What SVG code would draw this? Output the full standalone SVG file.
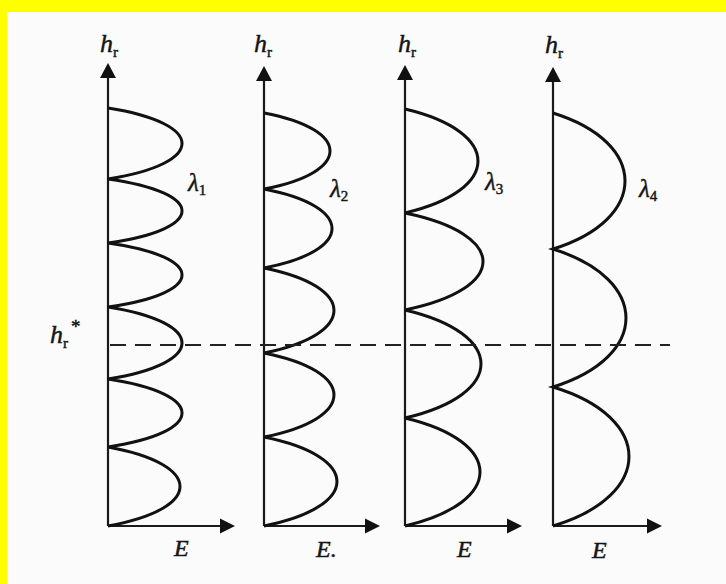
<svg xmlns="http://www.w3.org/2000/svg" width="726" height="584" viewBox="0 0 726 584">
<style>
.bg{fill:#fbfbfb}
.frame{fill:#ffff00}
.axis{stroke:#1a1a1a;stroke-width:2.2;fill:none}
.head{fill:#111}
.lobe{stroke:#111;stroke-width:3;fill:none;stroke-linejoin:miter}
.dash{stroke:#222;stroke-width:2;stroke-dasharray:16 9;fill:none}
text{font-family:"Liberation Serif","Times New Roman",serif;fill:#151515;stroke:#151515;stroke-width:0.45}
.h{font-size:26px;font-style:italic}
.lam{font-size:25px;font-style:italic}
.e{font-size:24px;font-style:italic}
.sub{font-size:15px;font-style:normal}
</style>
<rect class="bg" x="0" y="0" width="726" height="584"/>
<rect class="frame" x="0" y="0" width="726" height="12"/>
<rect class="frame" x="0" y="0" width="7" height="584"/>

<g id="panel-1">
  <line class="axis" x1="108" y1="526" x2="108" y2="72"/>
  <polygon class="head" points="108,63 100,78 116,78"/>
  <line class="axis" x1="108" y1="526" x2="226" y2="526"/>
  <polygon class="head" points="235,526 220,518.5 220,533.5"/>
  <path class="lobe" d="M108,108 C206.7,123.6 206.7,163.4 108,179 C206.7,193.1 206.7,228.9 108,243 C206.7,257.1 206.7,292.9 108,307 C206.7,322.8 206.7,363.2 108,379 C206.7,394 206.7,432 108,447 C204,464.4 204,508.6 108,526"/>
  <text class="h" x="100" y="52">h<tspan class="sub" dy="5">r</tspan></text>
  <text class="lam" x="188" y="191">λ<tspan class="sub" dy="4">1</tspan></text>
  <text class="e" x="174" y="556">E</text>
</g>

<g id="panel-2">
  <line class="axis" x1="264" y1="526" x2="264" y2="75"/>
  <polygon class="head" points="264,66 256,81 272,81"/>
  <line class="axis" x1="264" y1="526" x2="371" y2="526"/>
  <polygon class="head" points="380,526 365,518.5 365,533.5"/>
  <path class="lobe" d="M264,113 C352,129.7 352,172.3 264,189 C354.7,206.4 354.7,250.6 264,268 C357.3,286.7 357.3,334.3 264,353 C357.3,371.5 357.3,418.5 264,437 C361.3,456.6 361.3,506.4 264,526"/>
  <text class="h" x="254" y="52">h<tspan class="sub" dy="5">r</tspan></text>
  <text class="lam" x="330" y="197">λ<tspan class="sub" dy="4">2</tspan></text>
  <text class="e" x="316" y="557">E.</text>
</g>

<g id="panel-3">
  <line class="axis" x1="405" y1="526" x2="405" y2="74"/>
  <polygon class="head" points="405,65 397,80 413,80"/>
  <line class="axis" x1="405" y1="526" x2="513" y2="526"/>
  <polygon class="head" points="522,526 507,518.5 507,533.5"/>
  <path class="lobe" d="M405,109 C502.3,131.9 502.3,190.1 405,213 C509,234.3 509,288.7 405,310 C506.3,333.8 506.3,394.2 405,418 C505,441.8 505,502.2 405,526"/>
  <text class="h" x="398" y="52">h<tspan class="sub" dy="5">r</tspan></text>
  <text class="lam" x="485" y="190">λ<tspan class="sub" dy="4">3</tspan></text>
  <text class="e" x="457" y="557">E</text>
</g>

<g id="panel-4">
  <line class="axis" x1="553" y1="526" x2="553" y2="76"/>
  <polygon class="head" points="553,67 545,82 561,82"/>
  <line class="axis" x1="553" y1="526" x2="653" y2="526"/>
  <polygon class="head" points="662,526 647,518.5 647,533.5"/>
  <path class="lobe" d="M553,113 C649,142.9 649,219.1 553,249 C650.3,279.4 650.3,356.6 553,387 C654.3,417.6 654.3,495.4 553,526"/>
  <text class="h" x="545" y="53">h<tspan class="sub" dy="5">r</tspan></text>
  <text class="lam" x="639" y="197">λ<tspan class="sub" dy="4">4</tspan></text>
  <text class="e" x="592" y="558">E</text>
</g>

<g id="connectors">
  <line class="dash" x1="110" y1="345" x2="670" y2="345"/>
</g>

<g id="label-hstar">
  <text class="h" x="50" y="343">h<tspan class="sub" dy="5">r</tspan></text>
  <text class="h" x="71" y="333" style="font-size:19px;font-style:normal">*</text>
</g>
</svg>
